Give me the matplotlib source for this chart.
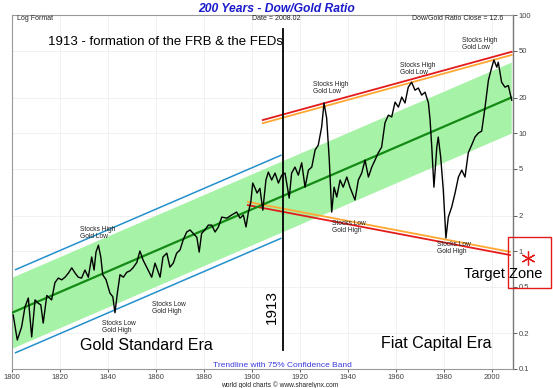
import numpy as np
import matplotlib
matplotlib.use('Agg')
import matplotlib.pyplot as plt
from matplotlib.patches import Rectangle

plt.rcParams['font.family'] = ['Liberation Sans', 'DejaVu Sans']

# Dow/Gold ratio
years = [1800.5, 1802.2, 1804.0, 1805.4, 1806.8, 1808.2, 1809.6, 1811.0, 1812.0, 1813.0,
         1814.5, 1816.5, 1817.9, 1819.3, 1820.7, 1822.1, 1823.5, 1824.9, 1826.3, 1827.6,
         1829.0, 1830.4, 1831.8, 1833.2, 1834.2, 1835.0, 1836.0, 1837.0, 1837.8, 1839.2,
         1840.8, 1842.0, 1842.9, 1843.9, 1845.0, 1846.4, 1847.8, 1849.2, 1850.4, 1852.0,
         1853.3, 1854.6, 1856.1, 1858.2, 1859.6, 1861.7, 1862.9, 1864.5, 1865.8, 1867.2,
         1868.6, 1870.0, 1871.3, 1872.8, 1874.2, 1875.5, 1877.0, 1878.0, 1879.0, 1880.4,
         1881.8, 1883.2, 1884.6, 1886.0, 1887.4, 1889.5, 1891.5, 1893.6, 1895.0, 1896.4,
         1897.5, 1898.5, 1899.5, 1900.3, 1901.3, 1902.1, 1903.3, 1904.5, 1905.8, 1906.8,
         1908.2, 1909.6, 1911.0, 1912.4, 1913.75, 1915.5, 1916.5, 1917.9, 1919.3, 1920.7,
         1922.1, 1923.5, 1924.9, 1926.3, 1927.6, 1929.0, 1930.0, 1931.1, 1932.2, 1933.2,
         1934.2, 1935.3, 1936.7, 1938.0, 1939.5, 1940.8, 1942.9, 1944.3, 1945.7, 1947.1,
         1948.5, 1949.9, 1951.25, 1952.6, 1954.0, 1955.4, 1956.8, 1958.2, 1959.6, 1961.0,
         1962.4, 1963.75, 1965.1, 1966.5, 1967.9, 1969.3, 1970.7, 1972.1, 1973.5, 1974.2,
         1974.9, 1975.8, 1977.0, 1977.6, 1978.6, 1979.7, 1980.8, 1981.8, 1983.2, 1984.6,
         1986.0, 1987.4, 1988.75, 1990.1, 1991.5, 1992.9, 1994.3, 1995.7, 1997.1, 1998.5,
         1999.9, 2000.8, 2002.0, 2002.6, 2004.0, 2005.4, 2006.8, 2008.2]
ratio = [0.287, 0.176, 0.227, 0.335, 0.40, 0.187, 0.385, 0.36, 0.35, 0.245,
         0.42, 0.385, 0.54, 0.59, 0.57, 0.60, 0.65, 0.72, 0.65, 0.60,
         0.59, 0.69, 0.60, 0.89, 0.69, 0.98, 1.12, 0.89, 0.63, 0.57,
         0.44, 0.41, 0.30, 0.44, 0.63, 0.60, 0.66, 0.68, 0.72, 0.80,
         1.0, 0.84, 0.73, 0.60, 0.79, 0.60, 0.89, 0.96, 0.73, 0.79,
         0.96, 1.02, 1.24, 1.45, 1.51, 1.41, 1.31, 0.98, 1.41, 1.51,
         1.66, 1.66, 1.45, 1.6, 1.94, 1.9, 2.02, 2.14, 1.9, 2.02,
         1.6, 2.14, 2.6, 3.77, 3.4, 3.1, 3.4, 2.22, 4.0, 4.67,
         4.0, 4.58, 3.77, 4.4, 4.58, 2.81, 4.58, 5.15, 4.4, 5.6,
         3.48, 4.85, 5.15, 7.2, 7.9, 11.2, 18.0, 13.4, 5.9, 2.14,
         3.48, 2.87, 4.0, 3.48, 4.24, 3.48, 2.71, 4.0, 4.58, 5.9,
         4.24, 5.15, 5.9, 6.8, 7.6, 12.2, 14.2, 13.7, 18.3, 16.6,
         20.2, 18.0, 24.5, 27.0, 23.1, 24.1, 21.0, 22.2, 18.0, 12.9,
         7.6, 3.48, 7.6, 9.25, 6.3, 3.29, 1.29, 1.94, 2.36, 3.1,
         4.24, 4.85, 4.24, 6.8, 7.9, 9.25, 10.0, 10.4, 16.6, 28.1,
         36.2, 41.6, 36.2, 39.9, 27.0, 24.5, 25.3, 19.0]

# trendline ends and band / channel factors
trend_years = [1800, 2008]
trend_vals = [0.30, 20.0]
band_factor = 2.0
blue_factor = 2.25
blue_years = [1801.5, 1912]

# upper and lower red channel lines
upper_years = [1904.5, 2008.2]
upper_vals = [12.9, 48.9]
lower_years = [1898.3, 2007.5]
lower_vals = [2.45, 0.925]

xticks = list(range(1800, 2001, 20))
yticks = [0.1, 0.2, 0.5, 1, 2, 5, 10, 20, 50, 100]
ytick_labels = ['0.1', '0.2', '0.5', '1', '2', '5', '10', '20', '50', '100']

notes = [
    ("Stocks High\nGold Low", 1828.3, 1.41),
    ("Stocks Low\nGold High", 1837.5, 0.227),
    ("Stocks Low\nGold High", 1858.3, 0.329),
    ("Stocks High\nGold Low", 1925.4, 24.0),
    ("Stocks High\nGold Low", 1961.7, 34.9),
    ("Stocks Low\nGold High", 1933.3, 1.6),
    ("Stocks Low\nGold High", 1977.1, 1.06),
    ("Stocks High\nGold Low", 1987.5, 56.8),
]


def log_line(x_pair, v_pair, xs):
    """Straight line on a log scale through two points."""
    slope = (np.log10(v_pair[1]) - np.log10(v_pair[0])) / (x_pair[1] - x_pair[0])
    return 10 ** (np.log10(v_pair[0]) + slope * (np.asarray(xs) - x_pair[0]))


fig = plt.figure(figsize=(5.53, 3.88), dpi=100)
ax = fig.add_axes([0.0217, 0.049, 0.906, 0.912])
ax.set_yscale('log')
ax.set_xlim(1800, 2008.75)
ax.set_ylim(0.1, 100)

# confidence band and trend
tx = np.array(trend_years, dtype=float)
tv = log_line(trend_years, trend_vals, tx)
ax.fill_between(tx, tv / band_factor, tv * band_factor, color='#a6f2a6', lw=0, zorder=1)
ax.plot(tx, tv, color='#138a13', lw=1.6, zorder=3)

bx = np.array(blue_years)
bv = log_line(trend_years, trend_vals, bx)
ax.plot(bx, bv * blue_factor, color='#2390cc', lw=1.1, zorder=2)
ax.plot(bx, bv / blue_factor, color='#2390cc', lw=1.1, zorder=2)

# red / orange channel
ax.plot(upper_years, upper_vals, color='#e41b1b', lw=1.3, zorder=2)
ax.plot(upper_years, np.array(upper_vals) * 0.94, color='#ffa733', lw=1.3, zorder=2)
ax.plot(lower_years, lower_vals, color='#e41b1b', lw=1.3, zorder=2)
ax.plot(lower_years, np.array(lower_vals) * 1.065, color='#ffa733', lw=1.3, zorder=2)

# the ratio itself
ax.plot(years, ratio, color='black', lw=1.0, zorder=4)

# 1913 line
ax.plot([1913, 1913], [0.145, 77], color='black', lw=1.3, zorder=5)
ax.text(0.519, 0.175, '1913', transform=ax.transAxes, rotation=90,
        ha='center', va='center', fontsize=11)

# axes styling
ax.yaxis.tick_right()
ax.set_yticks(yticks)
ax.set_yticklabels(ytick_labels)
ax.yaxis.set_minor_locator(matplotlib.ticker.NullLocator())
ax.set_xticks(xticks)
ax.tick_params(axis='y', labelsize=5.5, length=3, width=0.6, pad=1, colors='#444444')
ax.tick_params(axis='x', labelsize=5.5, length=2, width=0.6, pad=1.5, colors='#444444')
ax.grid(True, color='#ebebeb', lw=0.5)
ax.set_axisbelow(True)
for side in ['left', 'top', 'bottom']:
    ax.spines[side].set_color('#999999')
    ax.spines[side].set_linewidth(0.8)
ax.spines['right'].set_color('#777777')
ax.spines['right'].set_linewidth(1.0)

# texts
ax.text(0.01, 0.990, 'Log Format', transform=ax.transAxes, fontsize=5, va='center', color='#222222')
ax.text(0.479, 0.990, 'Date = 2008.02', transform=ax.transAxes, fontsize=5, va='center', color='#222222')
ax.text(0.980, 0.990, 'Dow/Gold Ratio Close = 12.6', transform=ax.transAxes, fontsize=5,
        va='center', ha='right', color='#222222')
ax.text(0.072, 0.924, '1913 - formation of the FRB & the FEDs', transform=ax.transAxes,
        fontsize=9.5, va='center')
ax.text(0.136, 0.065, 'Gold Standard Era', transform=ax.transAxes, fontsize=11.5, va='center')
ax.text(0.7365, 0.073, 'Fiat Capital Era', transform=ax.transAxes, fontsize=11.5, va='center')
ax.text(0.539, 0.011, 'Trendline with 75% Confidence Band', transform=ax.transAxes,
        fontsize=6, ha='center', va='center', color='#3b3bdd')
for label, nx, ny in notes:
    ax.text(nx, ny, label, fontsize=4.8, va='center', ha='left', linespacing=1.0,
            color='#222222', zorder=6)

# target zone
ax.add_patch(Rectangle((2006.7, 0.485), 17.9, 1.31 - 0.485, fill=False,
                       edgecolor='#e41b1b', lw=1.0, clip_on=False, zorder=6))
ax.plot([2015.1], [0.867], marker=(6, 2, 0), color='#e41b1b', markersize=10,
        mew=0.9, clip_on=False, zorder=7)
ax.text(0.98, 0.268, 'Target Zone', transform=ax.transAxes, fontsize=10.5,
        ha='center', va='center', zorder=7)

fig.text(0.5, 0.977, '200 Years - Dow/Gold Ratio', ha='center', va='center',
         fontsize=8.7, fontweight='bold', fontstyle='italic', color='#1a1acc')
fig.text(0.506, 0.008, 'world gold charts \u00a9 www.sharelynx.com', ha='center',
         va='center', fontsize=4.8, color='#222222')

fig.savefig('out.png', dpi=100)
